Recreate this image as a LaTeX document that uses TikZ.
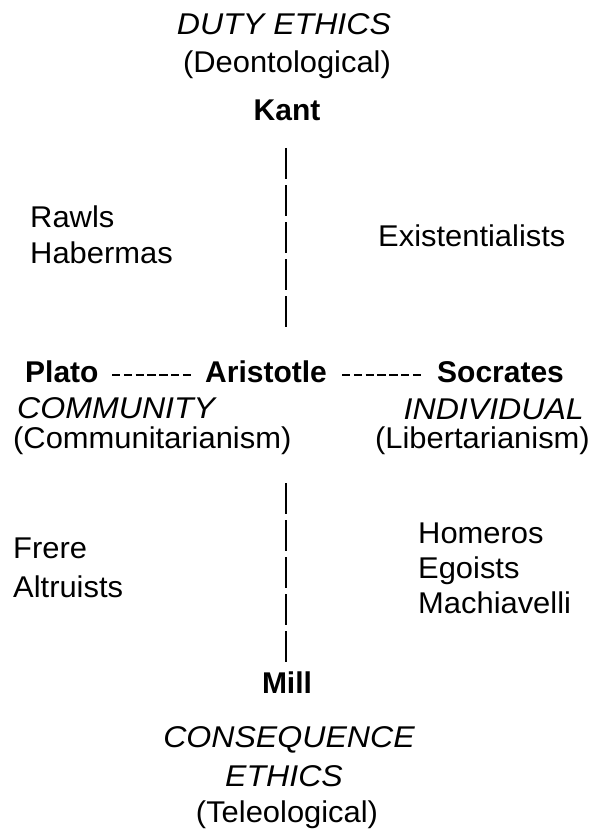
\documentclass[tikz,border=0pt]{standalone}
\usepackage{fontspec}
\setmainfont{Liberation Sans}
\newcommand\basefnt{\fontsize{30}{36}\selectfont}
\newcommand\regtxt[1]{\scalebox{1.03}[1]{#1}}
\newcommand\itxt[1]{\scalebox{1.07}[1]{#1}}
\begin{document}
\begin{tikzpicture}[x=1pt,y=-1pt,
  lbl/.style={inner sep=0pt,font=\basefnt},
  ital/.style={inner sep=0pt,font=\basefnt\itshape},
  boldlbl/.style={inner sep=0pt,font=\basefnt\bfseries},
  vline/.style={line width=1.3pt,dash pattern=on 31pt off 6pt},
  hline/.style={line width=2pt,dash pattern=on 8.4pt off 3.4pt}]
\useasboundingbox[fill=white] (0,0) rectangle (597,829);
% top
\node[ital,anchor=base] (duty) at (284,35) {\itxt{DUTY ETHICS}};
\node[lbl,anchor=base] (deon) at (287,73) {\regtxt{(Deontological)}};
\node[boldlbl,anchor=base] (kant) at (287,121) {Kant};
% upper side groups
\node[lbl,anchor=base west] (rawls) at (30,227) {\regtxt{Rawls}};
\node[lbl,anchor=base west] (haber) at (30,263) {\regtxt{Habermas}};
\node[lbl,anchor=base west] (exist) at (378,246) {\regtxt{Existentialists}};
% middle row
\node[boldlbl,anchor=base west] (plato) at (25,382) {Plato};
\node[boldlbl,anchor=base west] (arist) at (205,382) {Aristotle};
\node[boldlbl,anchor=base west] (socr) at (437,382) {Socrates};
\node[ital,anchor=base west] (comm) at (17,418) {\itxt{COMMUNITY}};
\node[lbl,anchor=base west] (commt) at (13,448) {\regtxt{(Communitarianism)}};
\node[ital,anchor=base east] (indiv) at (584,419) {\itxt{INDIVIDUAL}};
\node[lbl,anchor=base east] (liber) at (590,448) {\regtxt{(Libertarianism)}};
% lower side groups
\node[lbl,anchor=base west] (frere) at (13,558) {\regtxt{Frere}};
\node[lbl,anchor=base west] (altr) at (13,597) {\regtxt{Altruists}};
\node[lbl,anchor=base west] (homer) at (418,543) {\regtxt{Homeros}};
\node[lbl,anchor=base west] (ego) at (418,578) {\regtxt{Egoists}};
\node[lbl,anchor=base west] (mach) at (418,613) {\regtxt{Machiavelli}};
% bottom
\node[boldlbl,anchor=base] (mill) at (287,693) {Mill};
\node[ital,anchor=base] (conseq) at (289,747) {\itxt{CONSEQUENCE}};
\node[ital,anchor=base] (ethics) at (284,786) {\itxt{ETHICS}};
\node[lbl,anchor=base] (teleo) at (287,822) {\regtxt{(Teleological)}};
% connectors
\coordinate (vtop1) at (286,148);
\coordinate (vtop2) at (286,327);
\coordinate (vbot1) at (286,483);
\coordinate (vbot2) at (286,662);
\coordinate (hl1) at (112,375);
\coordinate (hl2) at (192,375);
\coordinate (hr1) at (342,375);
\coordinate (hr2) at (422,375);
\draw[vline] (vtop1) -- (vtop2);
\draw[vline] (vbot1) -- (vbot2);
\draw[hline] (hl1) -- (hl2);
\draw[hline] (hr1) -- (hr2);
\end{tikzpicture}
\end{document}
